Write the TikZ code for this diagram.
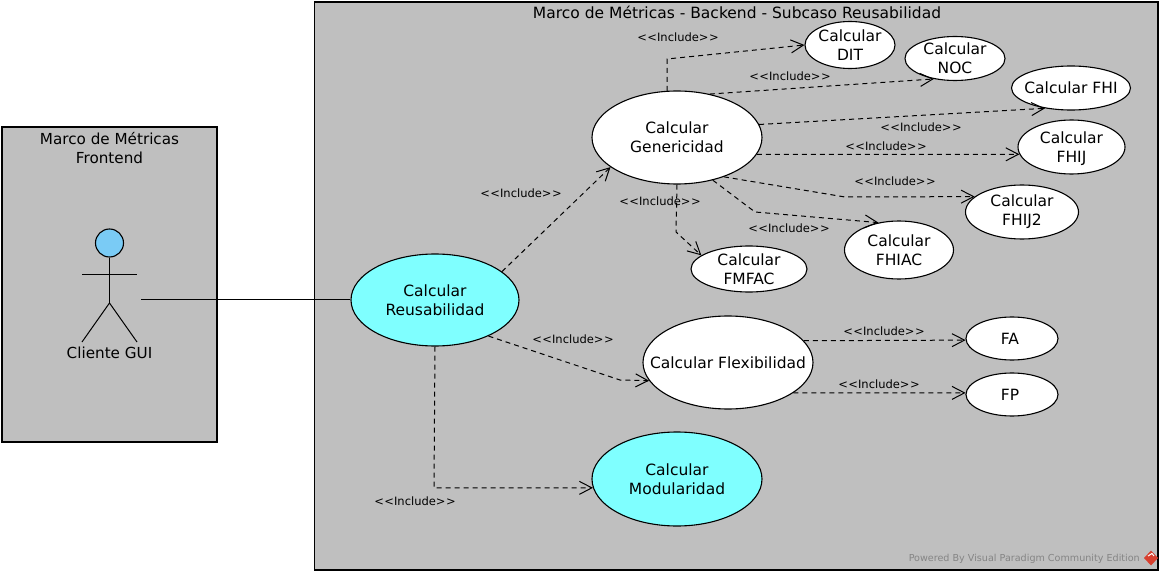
\documentclass[tikz,border=0pt]{standalone}
\usepackage{fontspec}
\setmainfont[Ligatures=NoCommon]{DejaVu Sans}
\usetikzlibrary{shapes.geometric,arrows.meta}
\definecolor{framegray}{HTML}{BFBFBF}
\definecolor{ucyan}{HTML}{7FFFFF}
\definecolor{headblue}{HTML}{7ACBF5}
\definecolor{markgray}{HTML}{858585}
\definecolor{markred}{HTML}{D8402F}
\newcommand{\zw}[1]{\makebox[0pt][c]{#1}}
\newcommand{\incl}{{<}\kern0.5pt{<}Include{>}\kern0.5pt{>}}
\tikzset{
  x=1pt,y=-1pt,
  frame/.style={draw=black,line width=1.1pt,fill=framegray},
  uc/.style={ellipse,draw=black,line width=1.1pt,fill=white,inner sep=0pt,align=center,font=\fontsize{15.5}{19}\selectfont},
  ucc/.style={uc,fill=ucyan},
  lbl/.style={font=\fontsize{11.5}{14}\selectfont,inner sep=0pt},
  ttl/.style={font=\fontsize{15.2}{19}\selectfont,inner sep=0pt,align=center},
  dep/.style={draw=black,line width=1pt,dash pattern=on 5pt off 4pt,-{Straight Barb[length=12.5pt,width=13pt,line width=1pt]}},
  limb/.style={draw=black,line width=1pt},
}
\begin{document}
\begin{tikzpicture}
\useasboundingbox (0,0) rectangle (1163,575);
\path[frame] (2,127) rectangle (217,442);
\path[frame] (314.5,2) rectangle (1158,570);
\node[ttl] (t1) at (109.5,148) {Marco de Métricas\\Frontend};
\node[ttl,font=\fontsize{15.5}{19}\selectfont] (t2) at (737,12) {Marco de Métricas - Backend - Subcaso Reusabilidad};
% actor
\node[circle,draw=black,line width=1.1pt,fill=headblue,minimum size=28pt,inner sep=0pt] (head) at (109.5,243) {};
\coordinate (hip) at (109.5,303);
\coordinate (armL) at (82,274.5);
\coordinate (armR) at (137,274.5);
\coordinate (legL) at (82,342);
\coordinate (legR) at (137,342);
\draw[limb] (head.south) -- (hip);
\draw[limb] (armL) -- (armR);
\draw[limb] (legL) -- (hip) -- (legR);
\node[ttl] (actor) at (109.5,352.5) {Cliente GUI};
\coordinate (actorEnd) at (141,299);
% use cases
\node[ucc,minimum width=168pt,minimum height=92pt] (reus) at (435,300) {Calcular\\Reusabilidad};
\node[uc,minimum width=170pt,minimum height=93pt] (gen) at (677,137.5) {Calcular\\Genericidad};
\node[uc,minimum width=90pt,minimum height=47pt] (dit) at (850,45) {\zw{Calcular}\\\zw{DIT}};
\node[uc,minimum width=100pt,minimum height=44pt] (noc) at (955,58.5) {\zw{Calcular}\\\zw{NOC}};
\node[uc,minimum width=119pt,minimum height=44pt] (fhi) at (1071,88) {\zw{Calcular FHI}};
\node[uc,minimum width=107pt,minimum height=54pt] (fhij) at (1071.5,147) {\zw{Calcular}\\\zw{\smash{FHIJ}}};
\node[uc,minimum width=113pt,minimum height=54pt] (fhijb) at (1022,212) {\zw{Calcular}\\\zw{FHIJ2}};
\node[uc,minimum width=109pt,minimum height=58pt] (fhiac) at (899,250) {\zw{Calcular}\\\zw{FHIAC}};
\node[uc,minimum width=116pt,minimum height=46pt] (fmfac) at (749,269) {\zw{Calcular}\\\zw{FMFAC}};
\node[uc,minimum width=170pt,minimum height=93pt] (flex) at (728,362.5) {\zw{Calcular Flexibilidad}};
\node[uc,minimum width=92pt,minimum height=43pt] (fa) at (1012,338.5) {\zw{FA}\kern4pt};
\node[uc,minimum width=92pt,minimum height=43pt] (fp) at (1012,394.5) {\zw{FP}\kern4pt};
\node[ucc,minimum width=170pt,minimum height=94pt] (mod) at (677,479) {Calcular\\Modularidad};
% connectors
\draw[draw=black,line width=1pt] (actorEnd) -- (actorEnd -| reus.west);
\coordinate (b1) at (667,59);
\coordinate (b2) at (845,197);
\coordinate (b3) at (755,212);
\coordinate (b4) at (676,232);
\coordinate (b5) at (620,380);
\coordinate (b6) at (434,488);
\draw[dep] (reus.23) -- (gen.204.8);
\draw[dep] (gen.102) -- (b1) -- (dit.180);
\draw[dep] (gen.53) -- (noc.224);
\draw[dep] (gen.9) -- (fhi.218.7);
\draw[dep] (gen.-12.6) -- (fhij.188);
\draw[dep] (gen.-40) -- (b2) -- (fhijb.162);
\draw[dep] (gen.-50) -- (b3) -- (fhiac.127);
\draw[dep] (gen.270) -- (b4) -- (fmfac.164);
\draw[dep] (reus.-34.6) -- (b5) -- (flex.193);
\draw[dep] (flex.16) -- (fa.182);
\draw[dep] (flex.-25.5) -- (fp.178);
\draw[dep] (reus.270) -- (b6) -- (mod.186);
% labels
\foreach \n/\px/\py in {l1/678/37,l2/790/76,l3/921/127,l4/886/146,l5/895/181,l6/789/228,l7/660/201,l8/521/193,l9/573/339,l10/884/331,l11/879/384,l12/415/501}
  \node[lbl] (\n) at (\px,\py) {\incl};
% watermark
\node[font=\fontsize{9.6}{11}\selectfont,text=markgray,inner sep=0pt,anchor=east] (wm) at (1140,558.5) {Powered By Visual Paradigm Community Edition};
\fill[markred] (1151,550.5) -- (1158,558) -- (1151,565.5) -- (1144,558) -- cycle;
\draw[white,line width=1pt] (1148,556) -- (1152,553.5) -- (1154,556);
\end{tikzpicture}
\end{document}
